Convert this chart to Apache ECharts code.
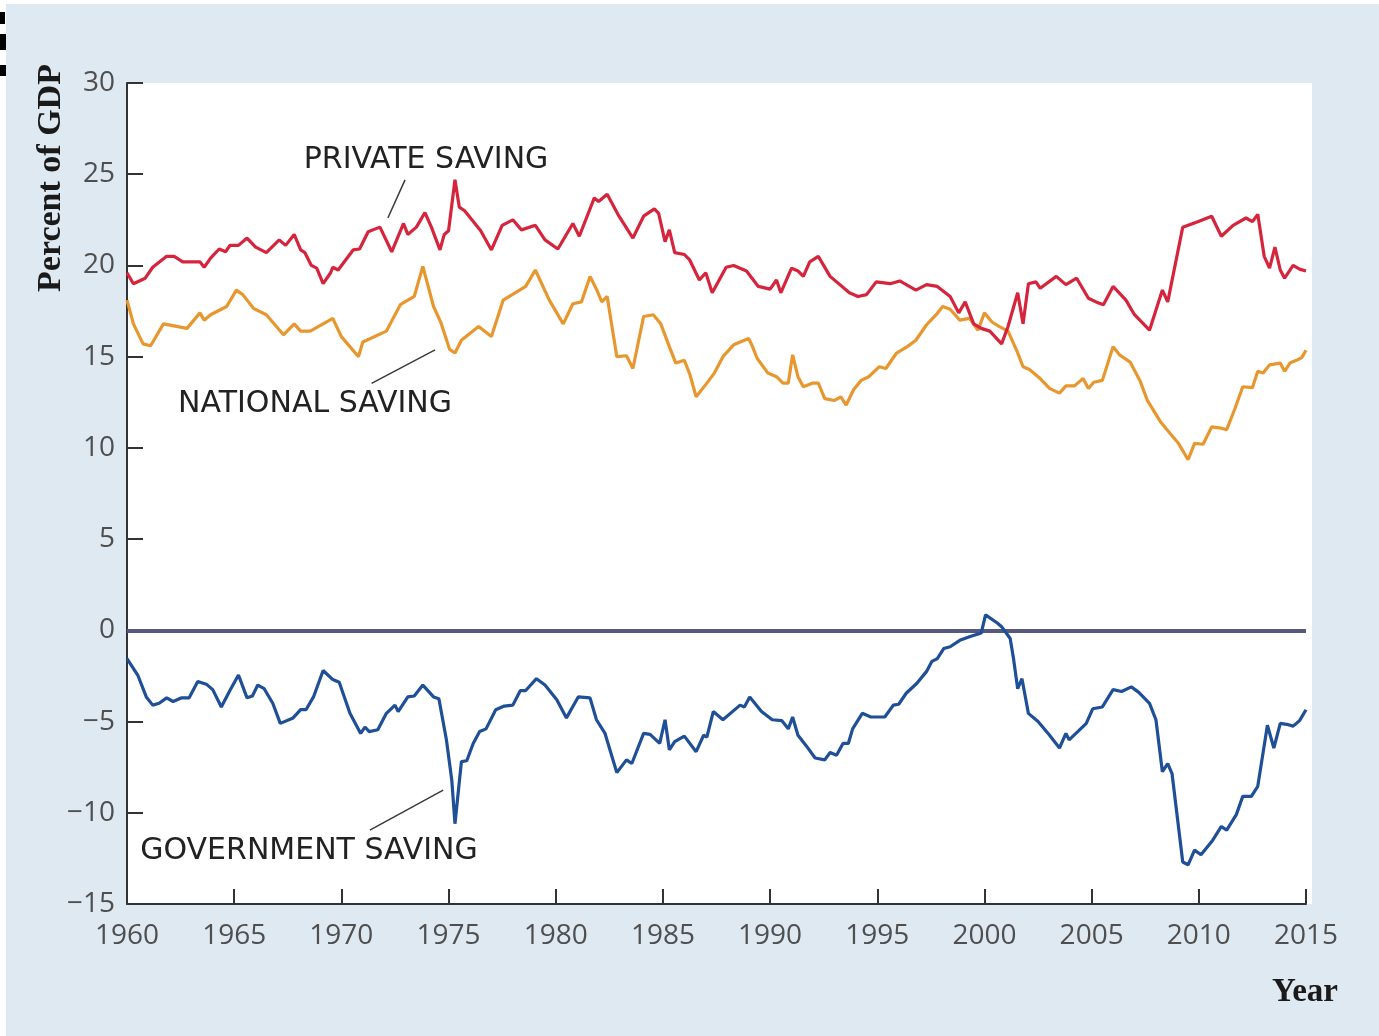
<!DOCTYPE html>
<html>
<head>
<meta charset="utf-8">
<script src="https://cdn.jsdelivr.net/npm/echarts@6/dist/echarts.min.js"></script>
<style>
html,body{margin:0;padding:0;background:#ffffff;}
#chart{width:1379px;height:1036px;}
</style>
</head>
<body>
<div id="chart"></div>
<script>
// ---- data (year, percent of GDP) ----
const xTicks = [1960, 1965, 1970, 1975, 1980, 1985, 1990, 1995, 2000, 2005, 2010, 2015];
const yTicks = [-15, -10, -5, 0, 5, 10, 15, 20, 25, 30];

const privateSaving = [
[1960.0,19.6],[1960.3,19.0],[1960.85,19.3],[1961.2,19.9],[1961.85,20.5],[1962.2,20.5],[1962.6,20.2],
[1963.4,20.2],[1963.6,19.9],[1963.9,20.4],[1964.3,20.9],[1964.6,20.75],[1964.8,21.1],[1965.2,21.1],
[1965.6,21.5],[1966.0,21.0],[1966.5,20.7],[1967.1,21.4],[1967.4,21.1],[1967.8,21.7],[1968.1,20.85],
[1968.3,20.7],[1968.6,20.0],[1968.85,19.85],[1969.15,19.0],[1969.5,19.6],[1969.6,19.9],[1969.85,19.75],
[1970.55,20.85],[1970.85,20.9],[1971.25,21.85],[1971.8,22.1],[1972.35,20.75],[1972.9,22.3],[1973.1,21.7],
[1973.5,22.1],[1973.9,22.9],[1974.2,22.1],[1974.6,20.85],[1974.8,21.7],[1975.0,21.9],[1975.3,24.7],
[1975.5,23.2],[1975.75,23.0],[1976.5,21.9],[1977.0,20.85],[1977.5,22.2],[1978.0,22.5],[1978.4,21.95],
[1979.05,22.2],[1979.5,21.4],[1980.1,20.9],[1980.8,22.3],[1981.1,21.6],[1981.8,23.7],[1982.0,23.5],
[1982.4,23.9],[1982.9,22.8],[1983.6,21.5],[1984.1,22.7],[1984.6,23.1],[1984.8,22.85],[1985.1,21.3],
[1985.3,21.95],[1985.55,20.7],[1986.0,20.6],[1986.25,20.3],[1986.7,19.2],[1987.0,19.6],[1987.3,18.5],
[1987.95,19.9],[1988.3,20.0],[1988.9,19.7],[1989.45,18.85],[1990.0,18.7],[1990.3,19.2],[1990.5,18.5],
[1991.0,19.85],[1991.3,19.7],[1991.55,19.4],[1991.85,20.2],[1992.25,20.5],[1992.8,19.4],[1993.7,18.5],
[1994.1,18.3],[1994.5,18.4],[1994.95,19.1],[1995.6,19.0],[1996.05,19.15],[1996.8,18.65],[1997.3,18.95],
[1997.8,18.85],[1998.4,18.3],[1998.8,17.4],[1999.1,18.0],[1999.5,16.8],[1999.85,16.55],[2000.25,16.4],
[2000.8,15.7],[2001.1,16.65],[2001.55,18.5],[2001.8,16.8],[2002.05,19.0],[2002.4,19.1],[2002.6,18.75],
[2003.35,19.4],[2003.8,18.95],[2004.3,19.3],[2004.85,18.2],[2005.3,17.95],[2005.55,17.85],[2006.0,18.85],
[2006.6,18.1],[2007.0,17.3],[2007.7,16.45],[2008.3,18.65],[2008.55,18.0],[2009.25,22.1],[2009.95,22.4],
[2010.6,22.7],[2011.05,21.6],[2011.6,22.2],[2012.2,22.6],[2012.5,22.4],[2012.75,22.8],[2013.05,20.5],
[2013.3,19.85],[2013.55,21.0],[2013.8,19.75],[2014.0,19.3],[2014.4,20.0],[2014.7,19.8],[2015.0,19.7]
];

const nationalSaving = [
[1960.0,18.1],[1960.3,16.8],[1960.75,15.7],[1961.1,15.6],[1961.7,16.8],[1962.8,16.55],[1963.4,17.4],
[1963.6,17.0],[1963.9,17.3],[1964.65,17.75],[1965.1,18.65],[1965.4,18.4],[1965.9,17.65],[1966.5,17.3],
[1967.3,16.2],[1967.8,16.8],[1968.1,16.4],[1968.55,16.4],[1969.6,17.1],[1970.0,16.1],[1970.8,15.0],
[1971.0,15.8],[1972.1,16.4],[1972.75,17.85],[1973.4,18.3],[1973.8,19.95],[1974.3,17.75],[1974.65,16.85],
[1975.05,15.4],[1975.3,15.2],[1975.6,15.9],[1976.4,16.65],[1977.0,16.1],[1977.55,18.1],[1978.6,18.85],
[1979.05,19.75],[1979.7,18.1],[1980.35,16.8],[1980.8,17.9],[1981.2,18.0],[1981.6,19.4],[1981.9,18.7],
[1982.15,18.0],[1982.4,18.3],[1982.85,15.0],[1983.3,15.05],[1983.6,14.35],[1984.1,17.2],[1984.55,17.3],
[1984.9,16.8],[1985.3,15.55],[1985.6,14.65],[1986.0,14.8],[1986.25,14.05],[1986.55,12.8],[1987.05,13.55],
[1987.4,14.1],[1987.8,15.0],[1988.3,15.65],[1988.8,15.9],[1989.0,16.0],[1989.2,15.5],[1989.4,14.9],
[1989.9,14.1],[1990.3,13.9],[1990.6,13.55],[1990.85,13.55],[1991.05,15.1],[1991.3,13.9],[1991.55,13.35],
[1992.0,13.55],[1992.25,13.55],[1992.55,12.7],[1993.0,12.6],[1993.3,12.8],[1993.55,12.35],[1993.9,13.2],
[1994.25,13.7],[1994.6,13.9],[1995.1,14.45],[1995.4,14.35],[1995.9,15.2],[1996.4,15.55],[1996.8,15.9],
[1997.3,16.75],[1997.75,17.3],[1998.05,17.75],[1998.4,17.6],[1998.85,17.0],[1999.3,17.1],[1999.7,16.45],
[2000.0,17.4],[2000.35,16.9],[2000.7,16.65],[2001.1,16.4],[2001.5,15.35],[2001.8,14.45],[2002.1,14.3],
[2002.6,13.8],[2003.05,13.25],[2003.5,13.0],[2003.8,13.4],[2004.2,13.4],[2004.6,13.8],[2004.85,13.25],
[2005.1,13.6],[2005.5,13.7],[2006.0,15.55],[2006.3,15.1],[2006.8,14.7],[2007.25,13.7],[2007.6,12.6],
[2008.2,11.45],[2008.65,10.8],[2009.05,10.25],[2009.5,9.35],[2009.8,10.25],[2010.2,10.2],[2010.6,11.15],
[2010.95,11.1],[2011.3,11.0],[2011.7,12.2],[2012.05,13.35],[2012.5,13.3],[2012.75,14.2],[2013.0,14.1],
[2013.3,14.55],[2013.8,14.65],[2014.0,14.2],[2014.25,14.65],[2014.55,14.8],[2014.8,14.95],[2015.0,15.35]
];

const governmentSaving = [
[1960.0,-1.55],[1960.5,-2.45],[1960.9,-3.65],[1961.2,-4.1],[1961.5,-4.0],[1961.85,-3.7],[1962.15,-3.9],
[1962.55,-3.7],[1962.9,-3.7],[1963.3,-2.8],[1963.7,-2.95],[1964.0,-3.25],[1964.4,-4.2],[1964.8,-3.3],
[1965.2,-2.45],[1965.6,-3.7],[1965.85,-3.6],[1966.1,-3.0],[1966.4,-3.2],[1966.8,-4.0],[1967.15,-5.1],
[1967.75,-4.8],[1968.1,-4.35],[1968.35,-4.35],[1968.7,-3.65],[1969.15,-2.2],[1969.6,-2.7],[1969.9,-2.85],
[1970.4,-4.55],[1970.9,-5.65],[1971.1,-5.3],[1971.3,-5.55],[1971.7,-5.45],[1972.1,-4.55],[1972.5,-4.1],
[1972.65,-4.45],[1973.1,-3.65],[1973.4,-3.6],[1973.8,-3.0],[1974.3,-3.65],[1974.55,-3.75],[1974.9,-6.0],
[1975.15,-8.2],[1975.3,-10.6],[1975.6,-7.2],[1975.85,-7.15],[1976.15,-6.2],[1976.45,-5.55],[1976.75,-5.4],
[1977.2,-4.35],[1977.6,-4.15],[1978.0,-4.1],[1978.35,-3.3],[1978.6,-3.3],[1979.1,-2.65],[1979.5,-3.0],
[1980.05,-3.8],[1980.5,-4.8],[1981.05,-3.65],[1981.6,-3.7],[1981.9,-4.9],[1982.3,-5.65],[1982.85,-7.8],
[1983.3,-7.1],[1983.55,-7.3],[1984.1,-5.65],[1984.4,-5.7],[1984.85,-6.2],[1985.1,-4.9],[1985.3,-6.55],
[1985.55,-6.1],[1986.0,-5.8],[1986.55,-6.65],[1986.9,-5.75],[1987.05,-5.85],[1987.35,-4.45],[1987.8,-4.9],
[1988.6,-4.1],[1988.8,-4.2],[1989.05,-3.65],[1989.6,-4.45],[1990.1,-4.9],[1990.55,-4.95],[1990.85,-5.4],
[1991.05,-4.75],[1991.3,-5.75],[1991.7,-6.35],[1992.1,-7.0],[1992.55,-7.1],[1992.8,-6.7],[1993.1,-6.85],
[1993.4,-6.2],[1993.65,-6.2],[1993.85,-5.4],[1994.3,-4.55],[1994.7,-4.75],[1995.35,-4.75],[1995.75,-4.1],
[1996.0,-4.05],[1996.35,-3.45],[1996.85,-2.9],[1997.3,-2.25],[1997.55,-1.7],[1997.8,-1.55],[1998.1,-1.0],
[1998.4,-0.9],[1998.85,-0.55],[1999.3,-0.35],[1999.85,-0.15],[2000.05,0.85],[2000.6,0.4],[2000.8,0.2],
[2001.2,-0.45],[2001.35,-1.5],[2001.55,-3.2],[2001.75,-2.65],[2002.05,-4.55],[2002.5,-5.0],[2003.0,-5.7],
[2003.5,-6.45],[2003.8,-5.65],[2003.95,-6.0],[2004.4,-5.5],[2004.75,-5.1],[2005.05,-4.3],[2005.5,-4.2],
[2006.0,-3.25],[2006.4,-3.35],[2006.85,-3.1],[2007.2,-3.4],[2007.7,-4.0],[2008.0,-4.9],[2008.3,-7.75],
[2008.55,-7.3],[2008.75,-7.85],[2009.25,-12.7],[2009.5,-12.85],[2009.8,-12.05],[2010.1,-12.3],[2010.65,-11.5],
[2011.05,-10.75],[2011.3,-10.95],[2011.75,-10.1],[2012.05,-9.1],[2012.45,-9.1],[2012.75,-8.55],[2013.2,-5.2],
[2013.5,-6.45],[2013.8,-5.1],[2014.1,-5.15],[2014.4,-5.25],[2014.7,-4.95],[2015.0,-4.35]
];

const seriesNames = ['PRIVATE SAVING', 'NATIONAL SAVING', 'GOVERNMENT SAVING'];
const axisTitles = { y: 'Percent of GDP', x: 'Year' };

// ---- chart ----
const chart = echarts.init(document.getElementById('chart'));
const tickFont = '"Open Sans", "DejaVu Sans", sans-serif';
const noteFont = '"DejaVu Sans", "Open Sans", sans-serif';
const minus = v => (v < 0 ? '\u2212' + (-v) : String(v));

function annotation(text, coord) {
  return {
    symbol: 'rect', symbolSize: [1, 1], itemStyle: { color: 'rgba(0,0,0,0)' },
    silent: true,
    label: { show: true, position: 'inside', formatter: text, fontFamily: noteFont,
             fontSize: 30, color: '#222222', fontWeight: 'normal' },
    data: [{ coord: coord }]
  };
}
function leader(a, b) {
  return {
    silent: true, symbol: ['none', 'none'], animation: false,
    lineStyle: { color: '#3a3a3a', width: 1.5, type: 'solid' },
    label: { show: false },
    data: [[{ coord: a }, { coord: b }]]
  };
}

chart.setOption({
  backgroundColor: '#dfe9f1',
  animation: false,
  grid: { left: 127, right: 73, top: 83, bottom: 132, show: true, backgroundColor: '#ffffff', borderWidth: 0 },
  xAxis: {
    type: 'value', min: xTicks[0], max: xTicks[xTicks.length - 1], interval: 5,
    axisLine: { show: true, onZero: false, lineStyle: { color: '#333333', width: 2 } },
    axisTick: { show: true, inside: true, length: 15, lineStyle: { color: '#333333', width: 2 } },
    axisLabel: { fontFamily: tickFont, fontSize: 28, color: '#4f4f4f', margin: 18, formatter: v => String(v) },
    splitLine: { show: false }
  },
  yAxis: {
    type: 'value', min: yTicks[0], max: yTicks[yTicks.length - 1], interval: 5,
    axisLine: { show: true, onZero: false, lineStyle: { color: '#333333', width: 2 } },
    axisTick: { show: true, inside: true, length: 16, lineStyle: { color: '#333333', width: 2 } },
    axisLabel: { fontFamily: tickFont, fontSize: 28, color: '#4f4f4f', margin: 12, formatter: minus },
    splitLine: { show: false }
  },
  graphic: [
    { type: 'rect', left: 1306, top: 83, z: -1, shape: { width: 6, height: 821 }, style: { fill: '#ffffff' }, silent: true },
    { type: 'rect', left: 0, top: 0, shape: { width: 6, height: 1036 }, style: { fill: '#ffffff' }, silent: true },
    { type: 'rect', left: 0, top: 0, shape: { width: 1379, height: 4 }, style: { fill: '#ffffff' }, silent: true },
    { type: 'rect', left: 0, top: 12, shape: { width: 5, height: 12 }, style: { fill: '#000000' }, silent: true },
    { type: 'rect', left: 0, top: 34, shape: { width: 6, height: 16 }, style: { fill: '#000000' }, silent: true },
    { type: 'rect', left: 0, top: 65, shape: { width: 6, height: 11 }, style: { fill: '#000000' }, silent: true },
    { type: 'text', x: 51, y: 178, rotation: Math.PI / 2, silent: true,
      style: { text: axisTitles.y, font: 'bold 34px "Liberation Serif", "DejaVu Serif", serif', fill: '#1a1a1a',
               textAlign: 'center', textVerticalAlign: 'middle', align: 'center', verticalAlign: 'middle' } },
    { type: 'text', x: 1305, y: 992, silent: true,
      style: { text: axisTitles.x, font: 'bold 33px "Liberation Serif", "DejaVu Serif", serif', fill: '#1a1a1a',
               textAlign: 'center', textVerticalAlign: 'middle', align: 'center', verticalAlign: 'middle' } }
  ],
  series: [
    {
      name: seriesNames[1], type: 'line', data: nationalSaving, showSymbol: false, z: 3,
      lineStyle: { color: '#e8972f', width: 3.2 }, itemStyle: { color: '#e8972f' },
      markPoint: annotation(seriesNames[1], [1968.77, 12.41]),
      markLine: leader([1974.37, 15.37], [1971.41, 13.54])
    },
    {
      name: seriesNames[0], type: 'line', data: privateSaving, showSymbol: false, z: 4,
      lineStyle: { color: '#d5243c', width: 3.2 }, itemStyle: { color: '#d5243c' },
      markPoint: annotation(seriesNames[0], [1973.95, 25.78]),
      markLine: leader([1972.97, 24.69], [1972.17, 22.6])
    },
    {
      name: 'zero', type: 'line', data: [], z: 2,
      markLine: { silent: true, symbol: ['none', 'none'], label: { show: false },
                  lineStyle: { color: '#56587f', width: 4, type: 'solid' }, data: [{ yAxis: 0 }] }
    },
    {
      name: seriesNames[2], type: 'line', data: governmentSaving, showSymbol: false, z: 5,
      lineStyle: { color: '#1e4f97', width: 3.2 }, itemStyle: { color: '#1e4f97' },
      markPoint: annotation(seriesNames[2], [1968.49, -12.09]),
      markLine: leader([1974.75, -8.76], [1971.33, -10.95])
    }
  ]
});
</script>
</body>
</html>
